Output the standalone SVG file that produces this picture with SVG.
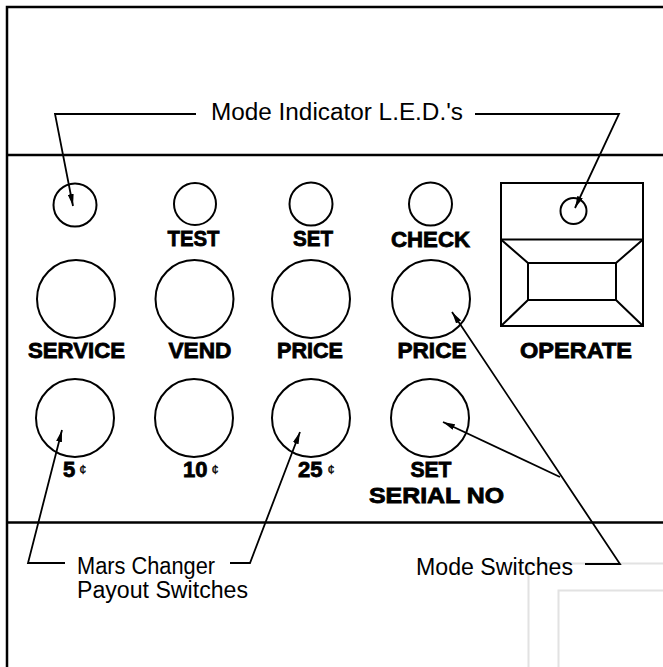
<svg xmlns="http://www.w3.org/2000/svg" width="663" height="667" viewBox="0 0 663 667">
<defs>
<marker id="ah" viewBox="0 0 12 6" refX="12" refY="3" markerWidth="12" markerHeight="6" markerUnits="userSpaceOnUse" orient="auto">
<path d="M0,0 L12,3 L0,6 Z" fill="#000"/>
</marker>
</defs>
<style>
.b{fill:none;stroke:#000;stroke-width:2.5}
.c{fill:none;stroke:#000;stroke-width:2}
.l{fill:none;stroke:#000;stroke-width:1.8}
.f{fill:none;stroke:#e2e2e2;stroke-width:2}
.lb{font-family:"Liberation Sans",Arial,sans-serif;font-weight:bold;font-size:22px;fill:#000;stroke:#000;stroke-width:0.8;text-anchor:middle}
.ls{font-family:"Liberation Sans",Arial,sans-serif;font-weight:bold;font-size:22px;fill:#000;stroke:#000;stroke-width:0.8}
.t{font-family:"Liberation Sans",Arial,sans-serif;font-size:23px;fill:#000}
.cent{font-size:13px;font-weight:normal;stroke-width:0.3}
</style>
<rect width="663" height="667" fill="#fff"/>
<g id="frame">
<path class="b" d="M7,667 V7 H663"/>
<path class="b" d="M7,155 H663"/>
<path class="b" d="M7,522.5 H663"/>
<path class="f" d="M528.5,667 V563.5 H663 M558.5,667 V590.5 H663"/>
</g>
<g id="led-service"><circle class="c" cx="75" cy="205" r="21.5"/></g>
<g id="led-test"><circle class="c" cx="195" cy="204" r="21"/><text class="lb" x="193.5" y="245.5" textLength="52" lengthAdjust="spacingAndGlyphs">TEST</text></g>
<g id="led-set"><circle class="c" cx="311" cy="204" r="21.5"/><text class="lb" x="313" y="246" textLength="40" lengthAdjust="spacingAndGlyphs">SET</text></g>
<g id="led-check"><circle class="c" cx="430.5" cy="204" r="21.5"/><text class="lb" x="430.5" y="247" textLength="79" lengthAdjust="spacingAndGlyphs">CHECK</text></g>
<g id="sw-service"><circle class="c" cx="76" cy="299" r="39"/><text class="lb" x="76.5" y="358" textLength="97" lengthAdjust="spacingAndGlyphs">SERVICE</text></g>
<g id="sw-vend"><circle class="c" cx="194.5" cy="299" r="39"/><text class="lb" x="200" y="358" textLength="63" lengthAdjust="spacingAndGlyphs">VEND</text></g>
<g id="sw-price"><circle class="c" cx="311" cy="299" r="39"/><text class="lb" x="310" y="358" textLength="66" lengthAdjust="spacingAndGlyphs">PRICE</text></g>
<g id="sw-price2"><circle class="c" cx="431" cy="299" r="39"/><text class="lb" x="432" y="358" textLength="69" lengthAdjust="spacingAndGlyphs">PRICE</text></g>
<g id="operate">
<rect class="c" x="501" y="183" width="142" height="143"/>
<path class="c" d="M501,239.5 H643"/>
<rect class="c" x="528" y="263" width="88" height="37"/>
<path class="c" d="M501,239.5 L528,263 M643,239.5 L616,263 M501,326 L528,300 M643,326 L616,300"/>
<circle class="c" cx="573.5" cy="211" r="13"/>
<text class="lb" x="576" y="358" textLength="112" lengthAdjust="spacingAndGlyphs">OPERATE</text>
</g>
<g id="sw-5"><circle class="c" cx="75" cy="418" r="39"/><text class="ls" x="63" y="477">5<tspan class="cent" dx="4" dy="-3">¢</tspan></text></g>
<g id="sw-10"><circle class="c" cx="194" cy="418" r="39"/><text class="ls" x="183" y="477">10<tspan class="cent" dx="4" dy="-3">¢</tspan></text></g>
<g id="sw-25"><circle class="c" cx="311" cy="418" r="39"/><text class="ls" x="298" y="477">25<tspan class="cent" dx="5" dy="-3">¢</tspan></text></g>
<g id="sw-serial"><circle class="c" cx="430" cy="418" r="39"/>
<text class="lb" x="431" y="477" textLength="41" lengthAdjust="spacingAndGlyphs">SET</text>
<text class="lb" x="436.5" y="502.5" textLength="135" lengthAdjust="spacingAndGlyphs">SERIAL NO</text></g>
<g id="labels">
<text class="t" x="211" y="120" textLength="252" lengthAdjust="spacingAndGlyphs">Mode Indicator L.E.D.'s</text>
<text class="t" x="77" y="574" textLength="138" lengthAdjust="spacingAndGlyphs">Mars Changer</text>
<text class="t" x="77" y="598" textLength="171" lengthAdjust="spacingAndGlyphs">Payout Switches</text>
<text class="t" x="416" y="575" textLength="157" lengthAdjust="spacingAndGlyphs">Mode Switches</text>
</g>
<g id="connectors">
<polyline class="l" points="196,114 55,114 73,206" marker-end="url(#ah)"/>
<polyline class="l" points="475,114 619,114 575,208" marker-end="url(#ah)"/>
<polyline class="l" points="65,563 28,563 62,430" marker-end="url(#ah)"/>
<polyline class="l" points="230,563 250,563 300,432" marker-end="url(#ah)"/>
<polyline class="l" points="585,564 620,564 452,312" marker-end="url(#ah)"/>
<polyline class="l" points="560,477 443,422" marker-end="url(#ah)"/>
</g>
</svg>
